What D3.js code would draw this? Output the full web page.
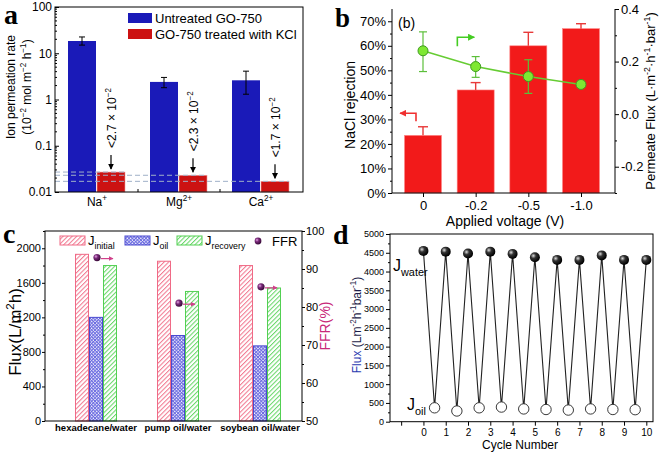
<!DOCTYPE html>
<html>
<head>
<meta charset="utf-8">
<script src="https://cdn.jsdelivr.net/npm/d3@7"></script>
<style>
  body { margin: 0; background: #fff; }
  svg { display: block; font-family: Arial, "Liberation Sans", sans-serif; }
</style>
</head>
<body>
<svg id="fig" width="660" height="453"></svg>
<script>
/**
 * panel a : ion permeation
 */
const ions = ['Na', 'Mg', 'Ca'];
const ionCharge = ['+', '2+', '2+'];
const untreatedRate = [18.4, 2.4, 2.6];
const untreatedLow = [15, 1.8, 1.3];
const untreatedHigh = [22.5, 3.0, 4.1];
const kclRate = [0.027, 0.023, 0.017];
const kclLimit = ['<2.7 \u00d7 10', '<2.3 \u00d7 10', '<1.7 \u00d7 10'];
const aTicks = [0.01, 0.1, 1, 10, 100];
const aTickLabels = ['0.01', '0.1', '1', '10', '100'];

/**
 * panel b : NaCl rejection vs voltage
 */
const voltages = ['0', '-0.2', '-0.5', '-1.0'];
const rejection = [23.5, 42, 60, 67];
const rejectionHigh = [27, 45, 65.5, 69];
const permFlux = [0.241, 0.181, 0.143, 0.113];
const permLow = [0.162, 0.14, 0.079, 0.102];
const permHigh = [0.313, 0.219, 0.207, 0.125];

/**
 * panel c : oil/water separation
 */
const systems = ['hexadecane/water', 'pump oil/water', 'soybean oil/water'];
const jInitial = [1930, 1850, 1800];
const jOil = [1200, 990, 870];
const jRecovery = [1800, 1500, 1540];
const ffr = [93, 81, 85.3];

/**
 * panel d : cycling
 */
const waterCycle = [0, 1, 2, 3, 4, 5, 6, 7, 8, 9, 10];
const waterFlux = [4550, 4530, 4480, 4530, 4470, 4380, 4310, 4310, 4430, 4310, 4310];
const oilCycle = [0.5, 1.5, 2.5, 3.5, 4.5, 5.5, 6.5, 7.5, 8.5, 9.5];
const oilFlux = [370, 285, 370, 390, 340, 325, 310, 340, 325, 320];

const FONT = 'Arial, "Liberation Sans", sans-serif';
const svg = d3.select('#fig');
const defs = svg.append('defs');

// text with sub / superscripts, parts = [[string, 'sup'|'sub'|null]]
function rich(t, parts, fs) {
  let shift = 0;
  parts.forEach(([s, kind]) => {
    const target = kind === 'sup' ? -0.4 * fs : kind === 'sub' ? 0.3 * fs : 0;
    t.append('tspan').attr('dy', target - shift).attr('font-size', kind ? fs * 0.68 : fs).text(s);
    shift = target;
  });
  return t;
}

function styleAxis(sel, size) {
  sel.select('.domain').remove();
  sel.selectAll('text').attr('font-size', size).attr('font-family', FONT).attr('fill', '#000');
  sel.selectAll('line').attr('stroke', '#000');
}

function marker(id, color, w, h) {
  defs.append('marker').attr('id', id).attr('viewBox', '0 0 10 10')
    .attr('refX', 9).attr('refY', 5).attr('markerUnits', 'userSpaceOnUse')
    .attr('markerWidth', w).attr('markerHeight', h).attr('orient', 'auto')
    .append('path').attr('d', 'M0,0 L10,5 L0,10 Z').attr('fill', color);
}

function hatch(id, color, angle, step, cross) {
  const p = defs.append('pattern').attr('id', id).attr('patternUnits', 'userSpaceOnUse')
    .attr('width', step).attr('height', step).attr('patternTransform', `rotate(${angle})`);
  p.append('rect').attr('width', step).attr('height', step).attr('fill', '#fff');
  p.append('line').attr('x1', 0.5).attr('x2', 0.5).attr('y1', 0).attr('y2', step)
    .attr('stroke', color).attr('stroke-width', 1.1);
  if (cross) {
    p.append('line').attr('x1', 0).attr('x2', step).attr('y1', 0.5).attr('y2', 0.5)
      .attr('stroke', color).attr('stroke-width', 1.1);
  }
}

function ball(id, light, mid, dark) {
  const g = defs.append('radialGradient').attr('id', id).attr('cx', '35%').attr('cy', '35%').attr('r', '65%');
  g.append('stop').attr('offset', '0%').attr('stop-color', light);
  g.append('stop').attr('offset', '40%').attr('stop-color', mid);
  g.append('stop').attr('offset', '100%').attr('stop-color', dark);
}

marker('arrK', '#000', 6, 6);
marker('arrR', '#f03030', 7, 7);
marker('arrG', '#44cc22', 7, 7);
marker('arrP', '#d0408a', 5, 5);
hatch('hPink', '#f27a92', 45, 3.2, false);
hatch('hBlue', '#6a6ae0', 45, 2.4, true);
hatch('hGreen', '#6ad86a', 45, 3.2, false);
ball('ballK', '#ddd', '#333', '#000');
ball('ballP', '#e6a8e6', '#7a2a7a', '#3a0a3a');

function letter(x, y, s, size) {
  svg.append('text').attr('x', x).attr('y', y).attr('font-family', '"Liberation Serif", "DejaVu Serif", serif')
    .attr('font-weight', 'bold').attr('font-size', size).text(s);
}

/**
 * panel a
 */
function panelA() {
  const L = 55, R = 303, T = 7, B = 192;
  const g = svg.append('g');
  const x = d3.scaleBand().domain(ions).range([56, 302]);
  const y = d3.scaleLog().domain([0.01, 100]).range([B, T]);
  const c = d => x(d) + x.bandwidth() / 2;

  g.selectAll('.ub').data(ions).join('rect')
    .attr('x', d => c(d) - 29).attr('width', 28)
    .attr('y', (d, i) => y(untreatedRate[i])).attr('height', (d, i) => B - y(untreatedRate[i]))
    .attr('fill', '#1a1ab8');
  g.selectAll('.kb').data(ions).join('rect')
    .attr('x', d => c(d)).attr('width', 28)
    .attr('y', (d, i) => y(kclRate[i])).attr('height', (d, i) => B - y(kclRate[i]))
    .attr('fill', '#cc1212').attr('stroke', '#f0a0a0').attr('stroke-width', 0.6);

  // dashed guides
  ions.forEach((d, i) => {
    g.append('line').attr('x1', L).attr('x2', c(d) + 28)
      .attr('y1', y(kclRate[i])).attr('y2', y(kclRate[i]))
      .attr('stroke', '#9fb0c8').attr('stroke-width', 1).attr('stroke-dasharray', '5,3');
  });

  // error bars
  ions.forEach((d, i) => {
    const cx = c(d) - 15;
    g.append('line').attr('x1', cx).attr('x2', cx).attr('y1', y(untreatedLow[i])).attr('y2', y(untreatedHigh[i])).attr('stroke', '#000');
    [untreatedLow[i], untreatedHigh[i]].forEach(v => {
      g.append('line').attr('x1', cx - 3).attr('x2', cx + 3).attr('y1', y(v)).attr('y2', y(v)).attr('stroke', '#000');
    });
  });

  // arrows + limits
  ions.forEach((d, i) => {
    const cx = c(d) + 14, top = y(kclRate[i]);
    g.append('line').attr('x1', cx).attr('x2', cx).attr('y1', top - 17).attr('y2', top - 3)
      .attr('stroke', '#000').attr('stroke-width', 1.2).attr('marker-end', 'url(#arrK)');
    const t = g.append('text').attr('transform', `translate(${cx + 4.5},${top - 24}) rotate(-90)`)
      .attr('font-size', 12);
    rich(t, [[kclLimit[i], null], ['\u22122', 'sup']], 12);
  });

  // frame and axes
  g.append('rect').attr('x', L).attr('y', T).attr('width', R - L).attr('height', B - T)
    .attr('fill', 'none').attr('stroke', '#000');
  const ax = g.append('g').attr('transform', `translate(${L},0)`)
    .call(d3.axisLeft(y).tickValues(aTicks).tickFormat((d, i) => aTickLabels[i]).tickSize(-4).tickPadding(3));
  styleAxis(ax, 12);
  const minor = y.ticks().filter(v => !aTicks.includes(v));
  g.selectAll('.mt').data(minor).join('line')
    .attr('x1', L).attr('x2', L + 2).attr('y1', d => y(d)).attr('y2', d => y(d)).attr('stroke', '#000');
  [ions[1], ions[2]].forEach(d => {
    g.append('line').attr('x1', x(d)).attr('x2', x(d)).attr('y1', B).attr('y2', B - 3).attr('stroke', '#000');
  });

  // category labels
  ions.forEach((d, i) => {
    const t = g.append('text').attr('x', c(d)).attr('y', 206).attr('text-anchor', 'middle').attr('font-size', 12);
    rich(t, [[d, null], [ionCharge[i], 'sup']], 12);
  });

  // y label
  g.append('text').attr('transform', 'translate(15,87) rotate(-90)').attr('text-anchor', 'middle')
    .attr('font-size', 12).text('Ion permeation rate');
  const yl2 = g.append('text').attr('transform', 'translate(31,87) rotate(-90)').attr('text-anchor', 'middle')
    .attr('font-size', 12);
  rich(yl2, [['(10', null], ['\u22122', 'sup'], [' mol m', null], ['\u22122', 'sup'], [' h', null], ['\u22121', 'sup'], [')', null]], 12);

  // legend
  const lg = [['Untreated GO-750', '#1a1ab8'], ['GO-750 treated with KCl', '#cc1212']];
  lg.forEach(([s, col], i) => {
    g.append('rect').attr('x', 128).attr('y', 13 + i * 16).attr('width', 24).attr('height', 10).attr('fill', col);
    g.append('text').attr('x', 155).attr('y', 23 + i * 16).attr('font-size', 13).text(s);
  });

  letter(4, 24, 'a', 28);
}

/**
 * panel b
 */
function panelB() {
  const L = 392, R = 615, T = 9, B = 193;
  const g = svg.append('g');
  const x = d3.scalePoint().domain(voltages).range([423, 581]);
  const yL = d3.scaleLinear().domain([0, 75]).range([B, T]);
  const yR = d3.scaleLinear().domain([-0.3, 0.4]).range([B, T]);

  g.selectAll('.bar').data(voltages).join('rect')
    .attr('x', d => x(d) - 18.5).attr('width', 37)
    .attr('y', (d, i) => yL(rejection[i])).attr('height', (d, i) => B - yL(rejection[i]))
    .attr('fill', '#f21a1a').attr('stroke', '#f88').attr('stroke-width', 0.6);
  voltages.forEach((d, i) => {
    g.append('line').attr('x1', x(d)).attr('x2', x(d)).attr('y1', yL(rejection[i])).attr('y2', yL(rejectionHigh[i]))
      .attr('stroke', '#e83a3a').attr('stroke-width', 1.4);
    g.append('line').attr('x1', x(d) - 5).attr('x2', x(d) + 5).attr('y1', yL(rejectionHigh[i])).attr('y2', yL(rejectionHigh[i]))
      .attr('stroke', '#e83a3a').attr('stroke-width', 1.4);
  });

  // flux line
  const line = d3.line().x((d, i) => x(voltages[i])).y(d => yR(d));
  g.append('path').datum(permFlux).attr('d', line).attr('fill', 'none').attr('stroke', '#66cc33').attr('stroke-width', 1.6);
  voltages.forEach((d, i) => {
    g.append('line').attr('x1', x(d)).attr('x2', x(d)).attr('y1', yR(permLow[i])).attr('y2', yR(permHigh[i]))
      .attr('stroke', '#5cbf3a').attr('stroke-width', 1.2);
    [permLow[i], permHigh[i]].forEach(v => {
      g.append('line').attr('x1', x(d) - 4).attr('x2', x(d) + 4).attr('y1', yR(v)).attr('y2', yR(v))
        .attr('stroke', '#5cbf3a').attr('stroke-width', 1.2);
    });
  });
  g.selectAll('.pt').data(permFlux).join('circle')
    .attr('cx', (d, i) => x(voltages[i])).attr('cy', d => yR(d)).attr('r', 5)
    .attr('fill', '#7ee832').attr('stroke', '#3f9a20').attr('stroke-width', 1);

  // axis arrows
  const rx = x(voltages[0]) - 7, ry = yL(32.5);
  g.append('path').attr('d', `M${rx},${ry + 8}V${ry}H${rx - 16}`).attr('fill', 'none')
    .attr('stroke', '#f03030').attr('stroke-width', 1.6).attr('marker-end', 'url(#arrR)');
  const gx = (x(voltages[0]) + x(voltages[1])) / 2 + 8, gy = yL(63.5);
  g.append('path').attr('d', `M${gx},${gy + 9}V${gy}H${gx + 17}`).attr('fill', 'none')
    .attr('stroke', '#44cc22').attr('stroke-width', 1.6).attr('marker-end', 'url(#arrG)');

  g.append('text').attr('x', 398).attr('y', 28).attr('font-size', 14).text('(b)');

  // frame
  g.append('path').attr('d', `M${L},${T}V${B}H${R}V${T}`).attr('fill', 'none').attr('stroke', '#000');
  const al = g.append('g').attr('transform', `translate(${L},0)`)
    .call(d3.axisLeft(yL).tickValues(d3.range(0, 71, 10)).tickFormat(d => d + '%').tickSize(4).tickPadding(2));
  styleAxis(al, 13);
  const alm = g.append('g').attr('transform', `translate(${L},0)`)
    .call(d3.axisLeft(yL).tickValues(d3.range(5, 71, 10)).tickFormat('').tickSize(2));
  styleAxis(alm, 13);
  const ar = g.append('g').attr('transform', `translate(${R},0)`)
    .call(d3.axisRight(yR).tickValues([-0.2, 0, 0.2, 0.4]).tickFormat(d => d.toFixed(1)).tickSize(4).tickPadding(2));
  styleAxis(ar, 13);
  const arm = g.append('g').attr('transform', `translate(${R},0)`)
    .call(d3.axisRight(yR).tickValues([-0.3, -0.1, 0.1, 0.3]).tickFormat('').tickSize(2));
  styleAxis(arm, 13);
  const ab = g.append('g').attr('transform', `translate(0,${B})`)
    .call(d3.axisBottom(x).tickSize(4).tickPadding(4));
  styleAxis(ab, 13);

  g.append('text').attr('transform', 'translate(355,105) rotate(-90)').attr('text-anchor', 'middle')
    .attr('font-size', 14).text('NaCl rejection');
  const rl = g.append('text').attr('transform', `translate(655,${(T + B) / 2}) rotate(-90)`).attr('text-anchor', 'middle')
    .attr('font-size', 13);
  rich(rl, [['Permeate Flux (L\u00b7m', null], ['-2', 'sup'], ['\u00b7h', null], ['-1', 'sup'], ['\u00b7bar', null], ['-1', 'sup'], [')', null]], 13);
  g.append('text').attr('x', 505).attr('y', 226).attr('text-anchor', 'middle').attr('font-size', 14).text('Applied voltage (V)');

  letter(335, 27, 'b', 27);
}

/**
 * panel c
 */
function panelC() {
  const L = 45, R = 302, T = 231, B = 421;
  const g = svg.append('g');
  const x = d3.scaleBand().domain(systems).range([55, 301]);
  const yL = d3.scaleLinear().domain([0, 2200]).range([B, T]);
  const yR = d3.scaleLinear().domain([50, 100]).range([B, T]);
  const c = d => x(d) + x.bandwidth() / 2;

  const series = [[jInitial, 'hPink', '#f06a86', -21], [jOil, 'hBlue', '#4a4ad0', -7], [jRecovery, 'hGreen', '#52d052', 7]];
  series.forEach(([vals, pat, col, off]) => {
    g.selectAll(null).data(systems).join('rect')
      .attr('x', d => c(d) + off + 0.5).attr('width', 13)
      .attr('y', (d, i) => yL(vals[i])).attr('height', (d, i) => B - yL(vals[i]))
      .attr('fill', `url(#${pat})`).attr('stroke', col).attr('stroke-width', 1);
  });

  // FFR points
  systems.forEach((d, i) => {
    const cx = c(d) + 1, cy = yR(ffr[i]);
    g.append('line').attr('x1', cx + 4).attr('x2', cx + 16).attr('y1', cy + 1).attr('y2', cy + 1)
      .attr('stroke', '#d0408a').attr('stroke-width', 1.2).attr('marker-end', 'url(#arrP)');
    g.append('circle').attr('cx', cx).attr('cy', cy).attr('r', 3.6).attr('fill', 'url(#ballP)');
  });

  // frame & axes
  g.append('rect').attr('x', L).attr('y', T).attr('width', R - L).attr('height', B - T)
    .attr('fill', 'none').attr('stroke', '#000');
  const al = g.append('g').attr('transform', `translate(${L},0)`)
    .call(d3.axisLeft(yL).tickValues(d3.range(0, 2001, 400)).tickFormat(d3.format('d')).tickSize(3).tickPadding(1));
  styleAxis(al, 11);
  const alm = g.append('g').attr('transform', `translate(${L},0)`)
    .call(d3.axisLeft(yL).tickValues(d3.range(200, 2201, 400)).tickFormat('').tickSize(2));
  styleAxis(alm, 11);
  const ar = g.append('g').attr('transform', `translate(${R},0)`)
    .call(d3.axisRight(yR).tickValues(d3.range(50, 101, 10)).tickSize(3).tickPadding(1));
  styleAxis(ar, 11);
  const arm = g.append('g').attr('transform', `translate(${R},0)`)
    .call(d3.axisRight(yR).tickValues(d3.range(55, 100, 10)).tickFormat('').tickSize(2));
  styleAxis(arm, 11);

  systems.forEach(d => {
    g.append('text').attr('x', c(d)).attr('y', 431).attr('text-anchor', 'middle')
      .attr('font-size', 9.5).attr('font-weight', 'bold').text(d);
  });

  const yl = g.append('text').attr('transform', 'translate(21,332) rotate(-90)').attr('text-anchor', 'middle')
    .attr('font-size', 17);
  rich(yl, [['Flux(L/m', null], ['2', 'sup'], ['h)', null]], 17);
  g.append('text').attr('transform', 'translate(330,326) rotate(-90)').attr('text-anchor', 'middle')
    .attr('font-size', 14).attr('fill', '#c8287a').text('FFR(%)');

  // legend
  const lg = [['hPink', '#f06a86', 'initial', 60], ['hBlue', '#4a4ad0', 'oil', 125], ['hGreen', '#52d052', 'recovery', 177]];
  lg.forEach(([pat, col, sub, lx]) => {
    g.append('rect').attr('x', lx).attr('y', 236).attr('width', 25).attr('height', 9)
      .attr('fill', `url(#${pat})`).attr('stroke', col);
    const t = g.append('text').attr('x', lx + 28).attr('y', 245).attr('font-size', 13);
    rich(t, [['J', null], [sub, 'sub']], 13);
  });
  g.append('circle').attr('cx', 258).attr('cy', 241).attr('r', 3.4).attr('fill', 'url(#ballP)');
  g.append('text').attr('x', 272).attr('y', 246).attr('font-size', 13).text('FFR');

  letter(3, 243, 'c', 28);
}

/**
 * panel d
 */
function panelD() {
  const L = 390, R = 653, T = 234, B = 421.7;
  const g = svg.append('g');
  const x = d3.scaleLinear().domain([-1.5, 10.3]).range([L, R]);
  const y = d3.scaleLinear().domain([0, 5000]).range([B, T]);

  const seq = waterCycle.map((c, i) => [c, waterFlux[i]])
    .concat(oilCycle.map((c, i) => [c, oilFlux[i]]))
    .sort((a, b) => a[0] - b[0]);
  g.append('path').datum(seq).attr('d', d3.line().x(d => x(d[0])).y(d => y(d[1])))
    .attr('fill', 'none').attr('stroke', '#222').attr('stroke-width', 1.1);
  g.selectAll('.w').data(waterFlux).join('circle')
    .attr('cx', (d, i) => x(waterCycle[i])).attr('cy', d => y(d)).attr('r', 5)
    .attr('fill', 'url(#ballK)');
  g.selectAll('.o').data(oilFlux).join('circle')
    .attr('cx', (d, i) => x(oilCycle[i])).attr('cy', d => y(d)).attr('r', 5.2)
    .attr('fill', '#fff').attr('stroke', '#222').attr('stroke-width', 0.9);

  g.append('rect').attr('x', L).attr('y', T).attr('width', R - L).attr('height', B - T)
    .attr('fill', 'none').attr('stroke', '#000');
  const al = g.append('g').attr('transform', `translate(${L},0)`)
    .call(d3.axisLeft(y).tickValues(d3.range(0, 5001, 500)).tickFormat(d3.format('d')).tickSize(4).tickPadding(2));
  styleAxis(al, 9);
  const alm = g.append('g').attr('transform', `translate(${L},0)`)
    .call(d3.axisLeft(y).tickValues(d3.range(250, 5000, 500)).tickFormat('').tickSize(2));
  styleAxis(alm, 9);
  const ab = g.append('g').attr('transform', `translate(0,${B})`)
    .call(d3.axisBottom(x).tickValues(d3.range(-1, 11)).tickFormat(d => d < 0 ? '' : d).tickSize(4).tickPadding(3));
  styleAxis(ab, 10);

  const yl = g.append('text').attr('transform', `translate(361,325) rotate(-90)`)
    .attr('text-anchor', 'middle').attr('font-size', 12).attr('fill', '#1c1c48');
  yl.append('tspan').attr('fill', '#2a3ab0').text('Flux');
  rich(yl, [[' (Lm', null], ['-2', 'sup'], ['h', null], ['-1', 'sup'], ['bar', null], ['-1', 'sup'], [')', null]], 12);
  g.append('text').attr('x', 520).attr('y', 449).attr('text-anchor', 'middle').attr('font-size', 12).text('Cycle Number');

  rich(g.append('text').attr('x', 393).attr('y', 271).attr('font-size', 16), [['J', null], ['water', 'sub']], 16);
  rich(g.append('text').attr('x', 407).attr('y', 410).attr('font-size', 16), [['J', null], ['oil', 'sub']], 16);

  letter(333, 244, 'd', 28);
}

panelA();
panelB();
panelC();
panelD();
</script>
</body>
</html>
